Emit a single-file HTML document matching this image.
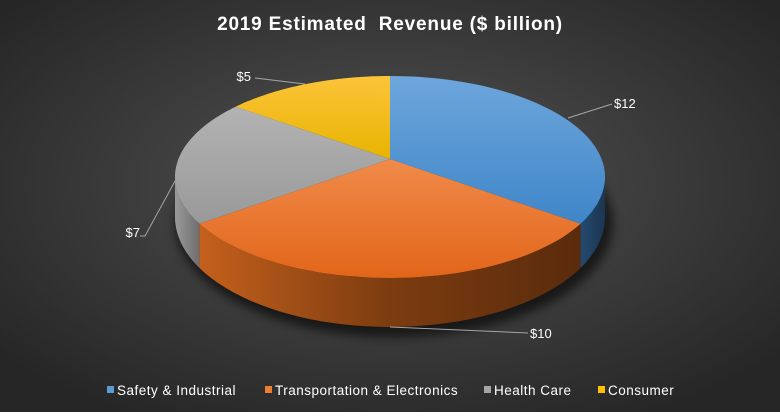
<!DOCTYPE html>
<html><head><meta charset="utf-8"><style>
html,body{margin:0;padding:0}
body{width:780px;height:412px;overflow:hidden;font-family:"Liberation Sans",sans-serif}
</style></head><body>
<svg width="780" height="412" viewBox="0 0 780 412" xmlns="http://www.w3.org/2000/svg">
<defs>
<radialGradient id="bg" cx="50%" cy="45%" r="65%"><stop offset="0" stop-color="#535353"/><stop offset="1" stop-color="#262626"/></radialGradient>
<linearGradient id="t0" x1="0" y1="0" x2="0" y2="1"><stop offset="0" stop-color="#6ea6dc"/><stop offset="1" stop-color="#3f86c8"/></linearGradient>
<linearGradient id="t1" x1="0" y1="0" x2="0" y2="1"><stop offset="0" stop-color="#f08a4a"/><stop offset="1" stop-color="#e2661a"/></linearGradient>
<linearGradient id="t2" x1="0" y1="0" x2="0" y2="1"><stop offset="0" stop-color="#b3b3b3"/><stop offset="1" stop-color="#999"/></linearGradient>
<linearGradient id="t3" x1="0" y1="0" x2="0" y2="1"><stop offset="0" stop-color="#fcc43a"/><stop offset="1" stop-color="#e8b400"/></linearGradient>
<linearGradient id="s0" x1="0" y1="0" x2="1" y2="0"><stop offset="0" stop-color="#244a70"/><stop offset="1" stop-color="#1b3650"/></linearGradient>
<linearGradient id="s1" x1="0" y1="0" x2="1" y2="0"><stop offset="0" stop-color="#c4601c"/><stop offset="0.5" stop-color="#7c3c10"/><stop offset="1" stop-color="#5a2b0c"/></linearGradient>
<linearGradient id="s2" x1="0" y1="0" x2="1" y2="0"><stop offset="0" stop-color="#9a9a9a"/><stop offset="1" stop-color="#6e6e6e"/></linearGradient>
<linearGradient id="s3" x1="0" y1="0" x2="1" y2="0"><stop offset="0" stop-color="#b08400"/><stop offset="1" stop-color="#806000"/></linearGradient>
<filter id="sh" x="-20%" y="-20%" width="140%" height="140%"><feGaussianBlur stdDeviation="5"/></filter>
</defs>
<rect width="780" height="412" fill="url(#bg)"/>
<text x="390" y="30" text-anchor="middle" fill="#fff" font-size="19" font-weight="bold" letter-spacing="0.8">2019 Estimated&#160; Revenue ($ billion)</text>
<g id="pie"></g>
<g id="labels"></g>
<g id="legend"></g>
</svg>
<script>
const categories = ["Safety & Industrial", "Transportation & Electronics", "Health Care", "Consumer"];
const values = [12, 10, 7, 5];
const valueLabels = ["$12", "$10", "$7", "$5"];
const legendColors = ["#5b9bd5", "#ed7d31", "#a5a5a5", "#ffc000"];

const NS = "http://www.w3.org/2000/svg";
const cx = 390, cy = 177, rx = 215, ry = 101, ax = 390, ay = 159, cy2 = 217, ry2 = 110, K = 0.45;
const pie = document.getElementById('pie');
const labels = document.getElementById('labels');
const legend = document.getElementById('legend');
function mk(tag, attrs, parent){const e=document.createElementNS(NS,tag);for(const k in attrs)e.setAttribute(k,attrs[k]);parent.appendChild(e);return e;}
function topPt(t){return [cx+rx*Math.sin(t), cy-ry*Math.cos(t)];}
function botPt(t){return [cx+rx*Math.sin(t), cy2-ry2*Math.cos(t)];}
// map data angle to ellipse parameter via ray from apex
function rimParam(th){
  const dx=Math.sin(th), dy=-K*Math.cos(th);
  const px=(ax-cx)/rx, py=(ay-cy)/ry, qx=dx/rx, qy=dy/ry;
  const A=qx*qx+qy*qy, B=2*(px*qx+py*qy), C=px*px+py*py-1;
  const s=(-B+Math.sqrt(B*B-4*A*C))/(2*A);
  const x=ax+s*dx, y=ay+s*dy;
  let t=Math.atan2((x-cx)/rx, -(y-cy)/ry);
  if(t<0) t+=2*Math.PI;
  if(th>=2*Math.PI-1e-9) t=2*Math.PI;
  if(th<=1e-9) t=0;
  return t;
}
const total = values.reduce((a,b)=>a+b,0);
const angles = [];
let acc = 0;
values.forEach(v=>{const a0=acc/total*2*Math.PI; acc+=v; angles.push([rimParam(a0), rimParam(acc/total*2*Math.PI)]);});

const shp = mk('ellipse',{cx:cx+4,cy:cy2+6,rx:rx+4,ry:ry2+4,fill:'#000',opacity:0.6,filter:'url(#sh)'},pie);



angles.forEach((a,i)=>{
  const s=Math.max(a[0],Math.PI/2), e=Math.min(a[1],3*Math.PI/2);
  if(e<=s) return;
  const pts=[];const N=40;
  for(let k=0;k<=N;k++){pts.push(topPt(s+(e-s)*k/N));}
  for(let k=N;k>=0;k--){pts.push(botPt(s+(e-s)*k/N));}
  const p = mk('polygon',{points:pts.map(p=>p.map(v=>v.toFixed(1)).join(',')).join(' '),fill:'url(#s'+i+')'},pie);
  
  
});
angles.forEach((a,i)=>{
  const pts=[[ax,ay]];const N=60;
  for(let k=0;k<=N;k++){pts.push(topPt(a[0]+(a[1]-a[0])*k/N));}
  const p = mk('polygon',{points:pts.map(p=>p.map(v=>v.toFixed(1)).join(',')).join(' '),fill:'url(#t'+i+')'},pie);
  
  
});

const leaders = [[[568,118],[612,104]],[[390,327],[528,333]],[[180,172],[145,236]],[[305,84],[255,78]]];
const lpos = [[614,108,'start'],[530,338,'start'],[140,237,'end'],[251,81,'end']];
values.forEach((v,i)=>{
  const L=leaders[i];
  const ln = mk('polyline',{points:L.map(p=>p.join(',')).join(' ')+(i==2?' 140,236':''),fill:'none',stroke:'#a6a6a6','stroke-width':1},labels);
  
  
  const t = mk('text',{x:lpos[i][0],y:lpos[i][1],'text-anchor':lpos[i][2],fill:'#fff','font-size':13},labels);
  t.textContent = valueLabels[i];
  
  
});

const lx=[107,265,484,598];
categories.forEach((c,i)=>{
  const r = mk('rect',{x:lx[i],y:386,width:7,height:7,fill:legendColors[i]},legend);
  
  
  const t = mk('text',{x:lx[i]+10,y:395,fill:'#fff','font-size':13.5,'letter-spacing':0.5},legend);
  t.textContent=c;
  
  
});
</script>
</body></html>
